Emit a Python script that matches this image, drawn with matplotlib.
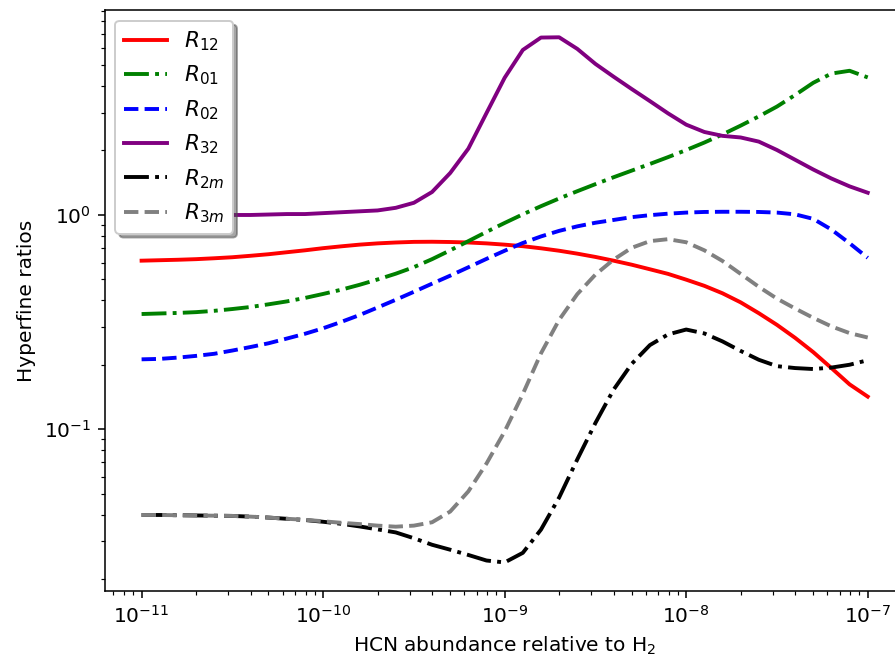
import numpy as np
import matplotlib
matplotlib.use("Agg")
import matplotlib.pyplot as plt

plt.rcParams["font.size"] = 10.35

# HCN abundance grid (log10 of X(HCN)/X(H2)), 0.1 dex steps from 1e-11 to 1e-7
log_abundance = [-11.0, -10.9, -10.8, -10.7, -10.6, -10.5, -10.4, -10.3, -10.2, -10.1,
                 -10.0, -9.9, -9.8, -9.7, -9.6, -9.5, -9.4, -9.3, -9.2, -9.1,
                 -9.0, -8.9, -8.8, -8.7, -8.6, -8.5, -8.4, -8.3, -8.2, -8.1,
                 -8.0, -7.9, -7.8, -7.7, -7.6, -7.5, -7.4, -7.3, -7.2, -7.1, -7.0]

R12 = [0.612, 0.615, 0.618, 0.622, 0.628, 0.635, 0.645, 0.656, 0.670, 0.684,
       0.700, 0.714, 0.727, 0.737, 0.744, 0.749, 0.750, 0.748, 0.744, 0.737,
       0.727, 0.715, 0.699, 0.681, 0.660, 0.637, 0.612, 0.586, 0.558, 0.531,
       0.499, 0.467, 0.431, 0.391, 0.348, 0.307, 0.267, 0.229, 0.193, 0.162, 0.142]

R01 = [0.345, 0.347, 0.349, 0.352, 0.357, 0.364, 0.372, 0.383, 0.395, 0.410,
       0.428, 0.448, 0.472, 0.500, 0.532, 0.571, 0.622, 0.684, 0.755, 0.834,
       0.918, 1.007, 1.099, 1.194, 1.291, 1.393, 1.500, 1.611, 1.730, 1.862,
       2.009, 2.178, 2.377, 2.612, 2.884, 3.206, 3.631, 4.140, 4.571, 4.710, 4.385]

R02 = [0.212, 0.213, 0.216, 0.220, 0.225, 0.233, 0.242, 0.252, 0.265, 0.279,
       0.296, 0.317, 0.341, 0.370, 0.402, 0.438, 0.478, 0.521, 0.570, 0.624,
       0.681, 0.740, 0.794, 0.843, 0.885, 0.920, 0.948, 0.977, 0.998, 1.014,
       1.026, 1.033, 1.035, 1.035, 1.033, 1.026, 1.007, 0.959, 0.855, 0.738, 0.631]

R32 = [1.00, 1.00, 1.00, 1.00, 1.00, 1.00, 1.00, 1.005, 1.01, 1.01,
       1.02, 1.03, 1.04, 1.05, 1.08, 1.14, 1.28, 1.57, 2.04, 2.99,
       4.37, 5.89, 6.73, 6.75, 5.96, 5.07, 4.42, 3.87, 3.40, 2.98,
       2.64, 2.44, 2.34, 2.30, 2.20, 2.01, 1.81, 1.63, 1.48, 1.36, 1.27]

R2m = [0.0398, 0.0398, 0.0397, 0.0396, 0.0395, 0.0394, 0.0391, 0.0387, 0.0382, 0.0377,
       0.0370, 0.0362, 0.0352, 0.0341, 0.0330, 0.0310, 0.0289, 0.0274, 0.0259, 0.0244,
       0.0239, 0.0265, 0.0340, 0.0480, 0.0723, 0.107, 0.153, 0.202, 0.247, 0.277,
       0.292, 0.280, 0.257, 0.232, 0.211, 0.197, 0.193, 0.191, 0.194, 0.200, 0.210]

R3m = [0.0398, 0.0398, 0.0397, 0.0396, 0.0395, 0.0394, 0.0391, 0.0387, 0.0382, 0.0378,
       0.0372, 0.0366, 0.0361, 0.0355, 0.0351, 0.0355, 0.0368, 0.0413, 0.0513, 0.0692,
       0.0977, 0.146, 0.226, 0.324, 0.427, 0.527, 0.619, 0.703, 0.755, 0.771,
       0.746, 0.684, 0.610, 0.531, 0.462, 0.407, 0.366, 0.331, 0.302, 0.281, 0.268]

labels = [r"$R_{12}$", r"$R_{01}$", r"$R_{02}$", r"$R_{32}$", r"$R_{2m}$", r"$R_{3m}$"]
series = [R12, R01, R02, R32, R2m, R3m]
colors = ["red", "green", "blue", "purple", "black", "gray"]
styles = ["-", "-.", "--", "-", "-.", "--"]

abundance = 10.0 ** np.array(log_abundance)

fig = plt.figure(figsize=(895 / 140, 662 / 140), dpi=140)
ax = fig.add_axes([0.1168, 0.1073, 0.8933, 0.8776])

for values, lab, col, ls in zip(series, labels, colors, styles):
    ax.plot(abundance, values, color=col, linestyle=ls, linewidth=2, label=lab)

ax.set_xscale("log")
ax.set_yscale("log")
ax.set_xlim(6.25e-12, 1.585e-7)
ax.set_ylim(0.01759, 9.05)
ax.set_xlabel(r"HCN abundance relative to H$_2$")
ax.set_ylabel("Hyperfine ratios")
ax.legend(loc="upper left", shadow=True, fontsize=11.1)

fig.savefig("out.png", dpi=140)
